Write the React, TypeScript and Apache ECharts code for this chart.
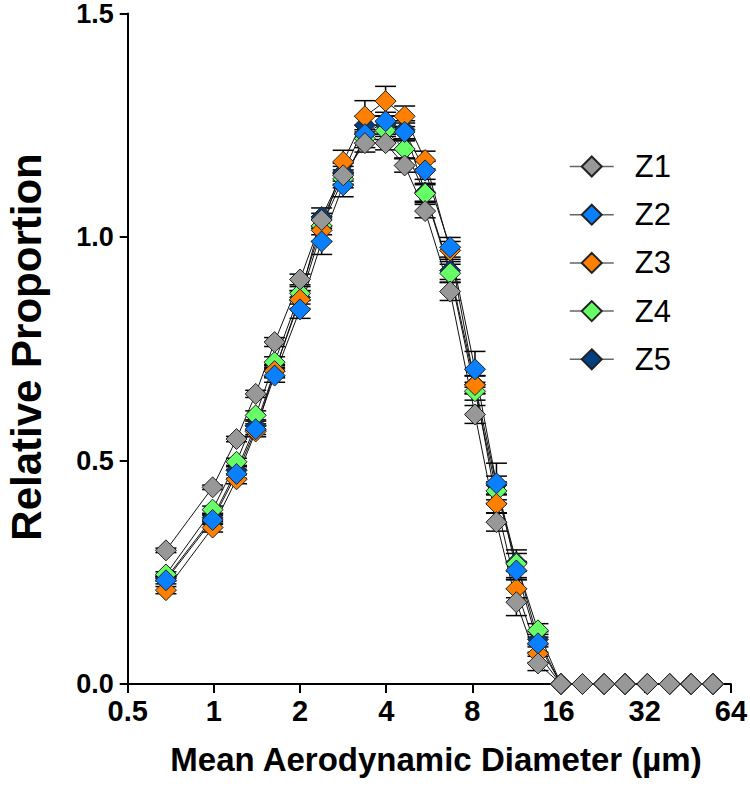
import React, { useEffect, useRef } from 'react';
import * as echarts from 'echarts';

// Mean aerodynamic diameter (µm) of each bin
const diameters = [0.68, 0.99, 1.2, 1.4, 1.63, 2.0, 2.38, 2.83, 3.37, 3.98, 4.64, 5.47, 6.69, 8.17, 9.71, 11.4, 13.56, 16.3, 19.4, 23.1, 27.3, 32.7, 39.1, 46.5, 55.4];

const seriesNames = ['Z1', 'Z2', 'Z3', 'Z4', 'Z5'];

const z1 = [0.299, 0.44, 0.548, 0.649, 0.765, 0.905, 1.038, 1.138, 1.21, 1.21, 1.16, 1.058, 0.878, 0.603, 0.362, 0.183, 0.046, 0, 0, 0, 0, 0, 0, 0, 0];
const z2 = [0.232, 0.367, 0.47, 0.57, 0.69, 0.838, 0.99, 1.116, 1.23, 1.259, 1.235, 1.149, 0.977, 0.704, 0.449, 0.254, 0.091, 0, 0, 0, 0, 0, 0, 0, 0];
const z3 = [0.21, 0.35, 0.458, 0.565, 0.7, 0.86, 1.015, 1.168, 1.27, 1.304, 1.27, 1.172, 0.97, 0.669, 0.403, 0.213, 0.068, 0, 0, 0, 0, 0, 0, 0, 0];
const z4 = [0.245, 0.39, 0.497, 0.601, 0.72, 0.874, 1.025, 1.13, 1.22, 1.238, 1.197, 1.097, 0.919, 0.655, 0.432, 0.269, 0.12, 0, 0, 0, 0, 0, 0, 0, 0];
const z5 = [0.236, 0.372, 0.478, 0.578, 0.7, 0.865, 1.045, 1.145, 1.25, 1.25, 1.24, 1.1, 0.925, 0.67, 0.445, 0.272, 0.1, 0, 0, 0, 0, 0, 0, 0, 0];

// Standard errors
const z1Err = [0.005, 0.005, 0.006, 0.008, 0.01, 0.012, 0.015, 0.02, 0.02, 0.015, 0.015, 0.015, 0.02, 0.02, 0.02, 0.03, 0.016, 0, 0, 0, 0, 0, 0, 0, 0];
const z2Err = [0.008, 0.01, 0.01, 0.012, 0.015, 0.02, 0.029, 0.026, 0.02, 0.02, 0.02, 0.02, 0.022, 0.04, 0.045, 0.02, 0.02, 0, 0, 0, 0, 0, 0, 0, 0];
const z3Err = [0.008, 0.01, 0.01, 0.012, 0.015, 0.02, 0.025, 0.026, 0.035, 0.033, 0.023, 0.02, 0.02, 0.02, 0.02, 0.02, 0.02, 0, 0, 0, 0, 0, 0, 0, 0];
const z4Err = [0.006, 0.008, 0.008, 0.01, 0.012, 0.015, 0.02, 0.02, 0.02, 0.02, 0.02, 0.02, 0.02, 0.02, 0.02, 0.031, 0.015, 0, 0, 0, 0, 0, 0, 0, 0];
const z5Err = [0.006, 0.008, 0.008, 0.01, 0.012, 0.015, 0.02, 0.02, 0.02, 0.02, 0.02, 0.02, 0.02, 0.02, 0.02, 0.02, 0.017, 0, 0, 0, 0, 0, 0, 0, 0];

const seriesValues = [z1, z2, z3, z4, z5];
const seriesErrors = [z1Err, z2Err, z3Err, z4Err, z5Err];
const seriesColors = ['#989898', '#0A80FF', '#FF8000', '#66FF66', '#003F80'];

const xTicks = [0.5, 1, 2, 4, 8, 16, 32, 64];
const yTicks = [0, 0.5, 1.0, 1.5];

const FONT = 'Arial, "Liberation Sans", Helvetica, sans-serif';

export default function App() {
  const ref = useRef<HTMLDivElement>(null);

  useEffect(() => {
    if (!ref.current) return;
    const chart = echarts.init(ref.current, null, { renderer: 'svg' });

    const series: any[] = [];
    // draw Z5 first so that Z1 ends up on top
    for (let k = seriesNames.length - 1; k >= 0; k--) {
      const vals = seriesValues[k];
      const errs = seriesErrors[k];
      series.push({
        name: seriesNames[k] + ' err',
        type: 'custom',
        silent: true,
        data: diameters.map((d, i) => [d, vals[i], errs[i]]),
        encode: { x: 0, y: 1 },
        renderItem: (params: any, api: any) => {
          const x = api.value(0);
          const y = api.value(1);
          const e = api.value(2);
          if (!e) return { type: 'group', children: [] };
          const top = api.coord([x, y + e]);
          const bot = api.coord([x, y - e]);
          const hw = 10.5;
          const st = { stroke: '#000', lineWidth: 1.5 };
          return {
            type: 'group',
            children: [
              { type: 'line', shape: { x1: top[0], y1: top[1], x2: bot[0], y2: bot[1] }, style: st },
              { type: 'line', shape: { x1: top[0] - hw, y1: top[1], x2: top[0] + hw, y2: top[1] }, style: st },
              { type: 'line', shape: { x1: bot[0] - hw, y1: bot[1], x2: bot[0] + hw, y2: bot[1] }, style: st },
            ],
          };
        },
      });
      series.push({
        name: seriesNames[k],
        type: 'line',
        data: diameters.map((d, i) => [d, vals[i]]),
        symbol: 'diamond',
        symbolSize: 21,
        itemStyle: { color: seriesColors[k], borderColor: '#222', borderWidth: 1 },
        lineStyle: { color: '#111', width: 1 },
        emphasis: { disabled: true },
      });
    }

    const option: any = {
      animation: false,
      backgroundColor: '#ffffff',
      grid: { left: 127.7, right: 17.3, top: 11, bottom: 104, containLabel: false },
      xAxis: {
        type: 'log',
        logBase: 2,
        min: xTicks[0],
        max: xTicks[xTicks.length - 1],
        interval: 1,
        axisLine: { show: true, lineStyle: { color: '#000', width: 2 } },
        axisTick: { show: true, length: 9, lineStyle: { color: '#000', width: 2 } },
        minorTick: { show: false },
        splitLine: { show: false },
        axisLabel: {
          color: '#000',
          fontSize: 29,
          fontWeight: 'bold',
          fontFamily: FONT,
          margin: 12,
          formatter: (v: number) => String(Math.round(v * 100) / 100),
        },
      },
      yAxis: {
        type: 'value',
        min: yTicks[0],
        max: yTicks[yTicks.length - 1],
        interval: 0.5,
        axisLine: { show: true, lineStyle: { color: '#000', width: 2 } },
        axisTick: { show: true, length: 8, lineStyle: { color: '#000', width: 2 } },
        splitLine: { show: false },
        axisLabel: {
          color: '#000',
          fontSize: 27,
          fontWeight: 'bold',
          fontFamily: FONT,
          margin: 14,
          formatter: (v: number) => v.toFixed(1),
        },
      },
      legend: {
        data: seriesNames,
        orient: 'vertical',
        left: 564,
        top: 146,
        itemWidth: 44,
        itemHeight: 25,
        itemGap: 17.2,
        selectedMode: false,
        lineStyle: { color: '#666', width: 1.5 },
        textStyle: {
          color: '#000',
          fontSize: 31,
          fontFamily: FONT,
          lineHeight: 30,
          padding: [0, 0, 0, 16],
        },
      },
      graphic: [
        {
          type: 'text',
          x: 436,
          y: 759,
          style: {
            text: 'Mean Aerodynamic Diameter (µm)',
            fill: '#000',
            font: 'bold 33px ' + FONT,
            textAlign: 'center',
            textVerticalAlign: 'middle',
          },
        },
        {
          type: 'text',
          x: 26,
          y: 347,
          rotation: Math.PI / 2,
          style: {
            text: 'Relative Proportion',
            fill: '#000',
            font: 'bold 42px ' + FONT,
            textAlign: 'center',
            textVerticalAlign: 'middle',
          },
        },
      ],
      series,
    };

    chart.setOption(option);
    return () => chart.dispose();
  }, []);

  return (
    <div
      ref={ref}
      style={{ position: 'absolute', left: 0, top: 0, width: 750, height: 788, background: '#fff' }}
    />
  );
}
